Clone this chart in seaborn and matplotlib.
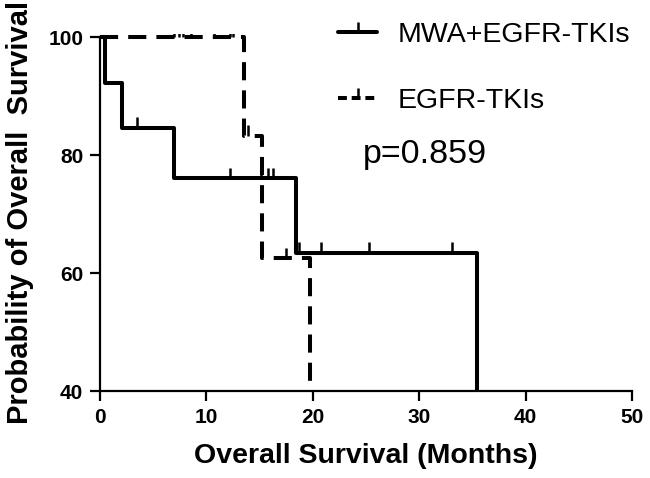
import numpy as np
import pandas as pd
import matplotlib
matplotlib.use("Agg")
import matplotlib.pyplot as plt
from matplotlib.path import Path
from matplotlib.lines import Line2D
import seaborn as sns

# step points (time in months, survival %)
mwa_time = [0, 0.5, 2.1, 7.0, 18.4, 35.4]
mwa_surv = [100, 92.3, 84.6, 76.1, 63.4, 0]
mwa_censor = [3.5, 12.2, 15.1, 15.8, 16.3, 18.7, 20.8, 25.3, 33.1]

tki_time = [0, 13.5, 15.2, 19.7]
tki_surv = [100, 83.3, 62.5, 0]
tki_censor = [7.0, 7.4, 7.8, 8.6, 10.7, 12.2, 12.5, 13.9, 17.5]

groups = ["MWA+EGFR-TKIs", "EGFR-TKIs"]
p_text = "p=0.859"


def surv_at(times, surv, t):
    i = np.searchsorted(times, t, side="right") - 1
    return np.asarray(surv)[i]


curves = pd.concat([
    pd.DataFrame({"time": mwa_time, "surv": mwa_surv, "group": groups[0]}),
    pd.DataFrame({"time": tki_time, "surv": tki_surv, "group": groups[1]}),
])
censors = pd.concat([
    pd.DataFrame({"time": mwa_censor,
                  "surv": surv_at(mwa_time, mwa_surv, mwa_censor),
                  "group": groups[0]}),
    pd.DataFrame({"time": tki_censor,
                  "surv": surv_at(tki_time, tki_surv, tki_censor),
                  "group": groups[1]}),
])

sns.set_style("white")
plt.rcParams["font.family"] = ["Liberation Sans", "DejaVu Sans"]
plt.rcParams["text.color"] = "black"
plt.rcParams["axes.labelcolor"] = "black"
plt.rcParams["xtick.color"] = "black"
plt.rcParams["ytick.color"] = "black"

# upward censor tick
tick = Path([(0, 0), (0, 1)], [Path.MOVETO, Path.LINETO])

fig = plt.figure(figsize=(6.5, 4.78), dpi=100)
ax = fig.add_axes([0.1538, 0.182, 0.8185, 0.7478])

lw = 2.9
dash = {groups[0]: None, groups[1]: (4.5, 2.5)}
for g in groups:
    d = curves[curves.group == g]
    sns.lineplot(data=d, x="time", y="surv", ax=ax, estimator=None,
                 sort=False, drawstyle="steps-post", color="black",
                 linewidth=lw, legend=False)
    l = ax.lines[-1]
    if dash[g] is not None:
        l.set_dashes(dash[g])
    l.set_solid_capstyle("butt")

sns.scatterplot(data=censors, x="time", y="surv", ax=ax, marker=tick, s=230,
                facecolor="none", edgecolor="black", linewidth=1.8,
                legend=False, zorder=5)

ax.set_xlim(0, 50)
ax.set_ylim(40, 100.6)
ax.spines["left"].set_bounds(40, 100)
ax.set_xticks([0, 10, 20, 30, 40, 50])
ax.set_yticks([40, 60, 80, 100])
for s in ["top", "right"]:
    ax.spines[s].set_visible(False)
for s in ["left", "bottom"]:
    ax.spines[s].set_linewidth(1.6)
    ax.spines[s].set_color("black")
ax.tick_params(direction="out", length=7, width=1.6, color="black",
               labelsize=15, pad=5, left=True, bottom=True)
for t in ax.get_xticklabels() + ax.get_yticklabels():
    t.set_fontweight("bold")

ax.set_xlabel("Overall Survival (Months)", fontsize=20.5, fontweight="bold",
              labelpad=12)
ax.set_ylabel("Probability of Overall  Survival", fontsize=21,
              fontweight="bold", labelpad=10)

handles = [
    Line2D([], [], color="black", lw=lw, marker=tick, markersize=15,
           markeredgewidth=1.8),
    Line2D([], [], color="black", lw=lw, dashes=(2.2, 1.2), marker=tick,
           markersize=15, markeredgewidth=1.8),
]
fig.legend(handles, groups, loc="upper left", bbox_to_anchor=(0.52, 0.955),
           frameon=False, fontsize=20.5, handlelength=1.37, handletextpad=0.74,
           labelspacing=1.42, borderpad=0, borderaxespad=0)

fig.text(363 / 650, 1 - 155 / 478, p_text, fontsize=24.5,
         ha="left", va="center")

fig.savefig("out.png", dpi=100)
